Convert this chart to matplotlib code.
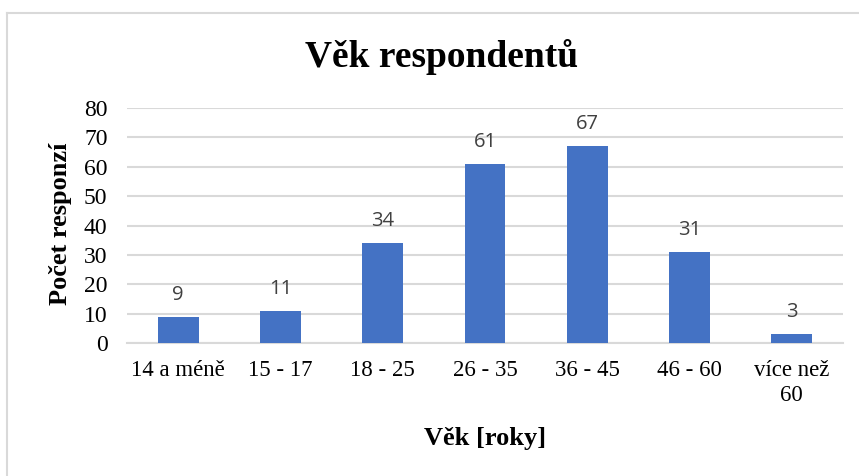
import matplotlib.pyplot as plt
from matplotlib.lines import Line2D

# --- Donnees ---
categories = ["14 a méně", "15 - 17", "18 - 25", "26 - 35", "36 - 45", "46 - 60", "více než\n60"]
values = [9, 11, 34, 61, 67, 31, 3]
y_ticks = [0, 10, 20, 30, 40, 50, 60, 70, 80]

BAR_COLOR = "#4472C4"
GRID_COLOR = "#D9D9D9"
TEXT_COLOR = "#000000"
LABEL_COLOR = "#404040"
SERIF = ["Liberation Serif", "DejaVu Serif"]
SANS = ["Open Sans", "DejaVu Sans"]

W, H = 859, 476

fig = plt.figure(figsize=(W / 100, H / 100), dpi=100)
fig.patch.set_facecolor("white")

# cadre du graphique (coupe a droite et en bas)
fig.add_artist(Line2D([7 / W, 1.0], [1 - 12.5 / H, 1 - 12.5 / H],
                      transform=fig.transFigure, color=GRID_COLOR, linewidth=1.5))
fig.add_artist(Line2D([7 / W, 7 / W], [0.0, 1 - 12.5 / H],
                      transform=fig.transFigure, color=GRID_COLOR, linewidth=1.5))

# zone de trace : x 127-843, y 108-343 (pixels)
ax = fig.add_axes([127 / W, 1 - 343 / H, 716 / W, 235 / H])

x = range(len(categories))
bars = ax.bar(x, values, width=0.40, color=BAR_COLOR, zorder=3)

ax.set_ylim(0, 80)
ax.set_xlim(-0.5, len(categories) - 0.5)
ax.set_yticks(y_ticks)
ax.set_yticklabels([str(t) for t in y_ticks], family=SERIF, fontsize=17, color=TEXT_COLOR)
ax.set_xticks(list(x))
ax.set_xticklabels(categories, family=SERIF, fontsize=16.5, color=TEXT_COLOR,
                   linespacing=1.3, va="top")
ax.tick_params(axis="both", length=0)
ax.tick_params(axis="x", pad=12)
ax.tick_params(axis="y", pad=14)

ax.grid(axis="y", color=GRID_COLOR, linewidth=1.5, zorder=0)
for side in ["top", "right", "left"]:
    ax.spines[side].set_visible(False)
ax.spines["bottom"].set_color(GRID_COLOR)
ax.spines["bottom"].set_linewidth(1.5)

# etiquettes des barres
for b, v in zip(bars, values):
    ax.annotate(str(v), (b.get_x() + b.get_width() / 2, v),
                xytext=(0, 8.5), textcoords="offset points",
                ha="center", va="bottom", family=SANS, fontsize=14.5, color=LABEL_COLOR)

# titres
fig.text(442 / W, 1 - 67 / H, "Věk respondentů", family=SERIF, fontsize=27,
         fontweight="bold", ha="center", va="baseline", color=TEXT_COLOR)
fig.text(61 / W, 1 - 224 / H, "Počet responzí", family=SERIF, fontsize=19,
         fontweight="bold", ha="center", va="center", rotation=90, color=TEXT_COLOR)
fig.text(485 / W, 1 - 445 / H, "Věk [roky]", family=SERIF, fontsize=19,
         fontweight="bold", ha="center", va="baseline", color=TEXT_COLOR)

fig.savefig("out.png", dpi=100)
plt.close(fig)
